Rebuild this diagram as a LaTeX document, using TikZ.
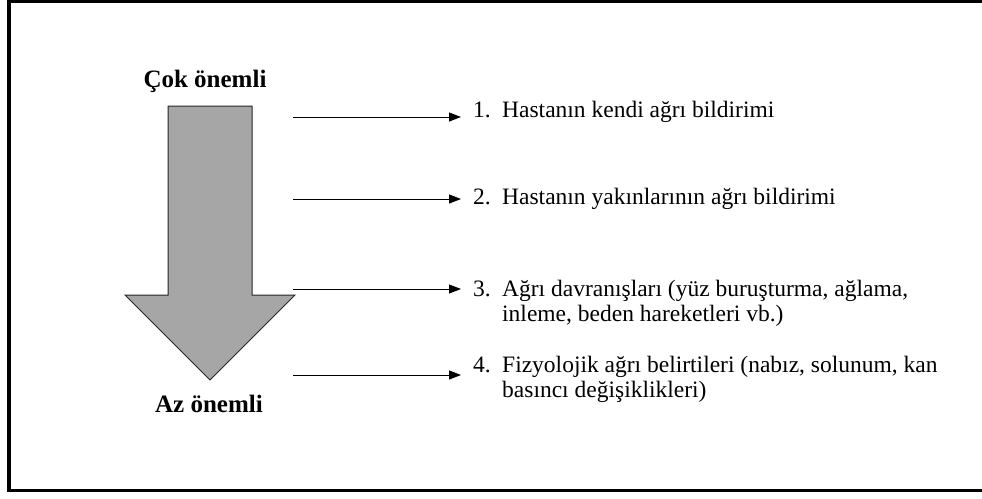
\documentclass[tikz,border=0pt]{standalone}
\usepackage{fontspec}
\setmainfont{Liberation Serif}
\usetikzlibrary{arrows.meta}
\definecolor{arrowgray}{HTML}{A6A6A6}
\begin{document}
\begin{tikzpicture}[x=1pt,y=-1pt,
  txt/.style={font=\fontsize{23.5}{25.8}\selectfont, inner sep=0pt, anchor=base west, align=left},
  head/.style={font=\fontsize{25}{26}\selectfont\bfseries, inner sep=0pt, anchor=base},
  conn/.style={line width=1pt, shorten >=12pt, -{Triangle[length=12pt,width=9pt]}}]
\useasboundingbox (0,0) rectangle (982,498);
% frame (right side lies beyond the picture)
\draw[line width=3.5pt] (990,1.5) -- (9,1.5) -- (9,490.5) -- (990,490.5);
% big arrow
\draw[fill=arrowgray, line width=1pt, draw=black!85, line join=miter]
  (168,106) -- (252,106) -- (252,295) -- (295,295) -- (210,380) -- (125,295) -- (168,295) -- cycle;
\node[head] (top) at (205,87) {Çok önemli};
\node[head] (bot) at (209,412) {Az önemli};
% starting points of connectors
\coordinate (s1) at (293,117);
\coordinate (s2) at (293,199);
\coordinate (s3) at (293,289);
\coordinate (s4) at (293,375);
% numbers
\node[txt] (n1) at (473,117) {1.};
\node[txt] (n2) at (473,204) {2.};
\node[txt] (n3) at (473,296) {3.};
\node[txt] (n4) at (473,372) {4.};
% texts (base anchor of a two-line node is the baseline of its last line)
\node[txt] (t1) at (502,117) {Hastanın kendi ağrı bildirimi};
\node[txt] (t2) at (502,204) {Hastanın yakınlarının ağrı bildirimi};
\node[txt] (t3) at (502,321.8) {Ağrı davranışları (yüz buruşturma, ağlama,\\inleme, beden hareketleri vb.)};
\node[txt] (t4) at (502,397.8) {Fizyolojik ağrı belirtileri (nabız, solunum, kan\\basıncı değişiklikleri)};
% connectors
\draw[conn] (s1) -- (s1 -| n1.west);
\draw[conn] (s2) -- (s2 -| n2.west);
\draw[conn] (s3) -- (s3 -| n3.west);
\draw[conn] (s4) -- (s4 -| n4.west);
\end{tikzpicture}
\end{document}
